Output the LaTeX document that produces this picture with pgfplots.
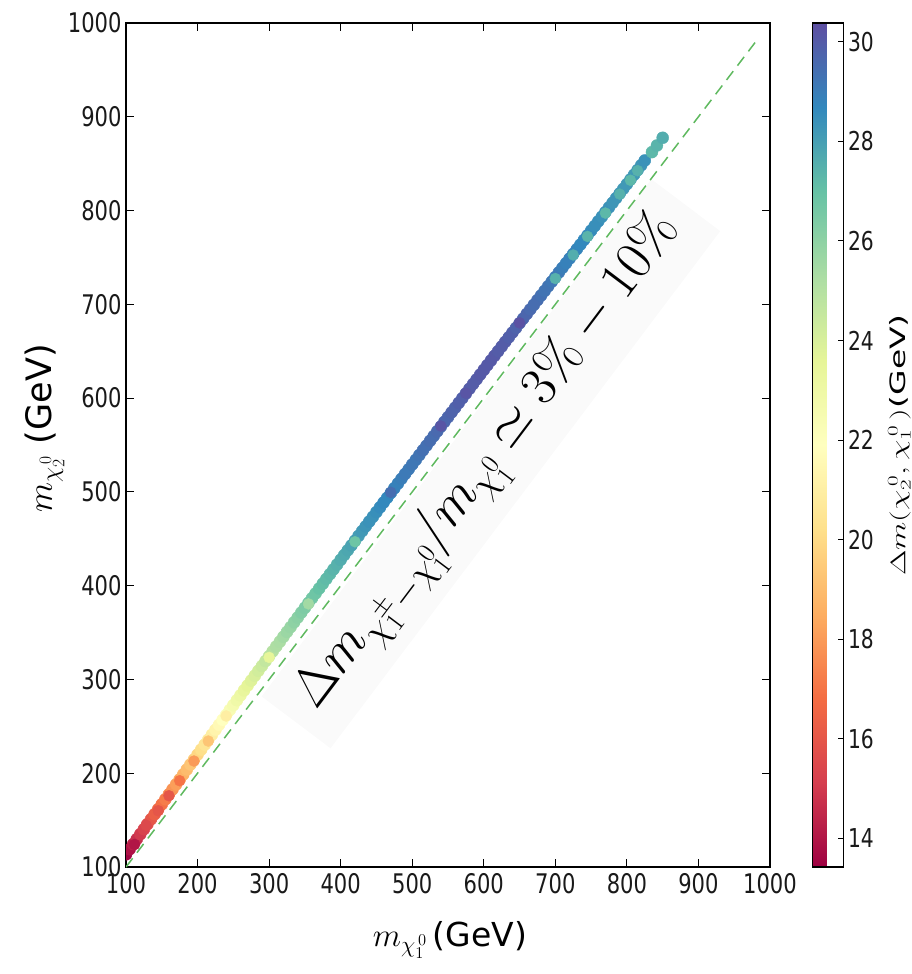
\RequirePackage{fix-cm}
\documentclass[border=0pt]{standalone}
\usepackage{pgfplots}
\pgfplotsset{compat=1.18}
\usepackage{pgfplotstable}
\usepackage[no-math]{fontspec}
\setmainfont{DejaVu Sans}
\newfontfamily\tickfont{DejaVu Sans}[FakeStretch=0.78]
\definecolor{dashgreen}{RGB}{95,185,95}

\pgfplotstableread{
x y c
100 113.5 13.5
105 118.9 13.9
110 124.3 14.3
115 129.7 14.7
120 135.0 15.0
125 140.3 15.3
130 145.7 15.7
135 151.0 16.0
140 156.3 16.3
145 161.6 16.6
150 166.9 16.9
155 172.2 17.2
160 177.5 17.5
165 182.8 17.8
170 188.1 18.1
175 193.4 18.4
180 198.7 18.7
185 204.0 19.0
190 209.3 19.3
195 214.6 19.6
200 219.9 19.9
205 225.2 20.2
210 230.5 20.5
215 235.8 20.8
220 241.0 21.0
225 246.3 21.3
230 251.6 21.6
235 256.9 21.9
240 262.1 22.1
245 267.4 22.4
250 272.6 22.6
255 277.9 22.9
260 283.1 23.1
265 288.4 23.4
270 293.6 23.6
275 298.8 23.8
280 304.0 24.0
285 309.2 24.2
290 314.4 24.4
295 319.6 24.6
300 324.8 24.8
305 330.0 25.0
310 335.2 25.2
315 340.3 25.3
320 345.5 25.5
325 350.7 25.7
330 355.8 25.8
335 361.0 26.0
340 366.1 26.1
345 371.3 26.3
350 376.4 26.4
355 381.6 26.6
360 386.7 26.7
365 391.8 26.8
370 397.0 27.0
375 402.1 27.1
380 407.2 27.2
385 412.3 27.3
390 417.4 27.4
395 422.5 27.5
400 427.6 27.6
405 432.7 27.7
410 437.8 27.8
415 442.9 27.9
420 448.0 28.0
425 453.1 28.1
430 458.2 28.2
435 463.3 28.3
440 468.4 28.4
445 473.4 28.4
450 478.5 28.5
455 483.6 28.6
460 488.7 28.7
465 493.7 28.7
470 498.8 28.8
475 503.9 28.9
480 508.9 28.9
485 514.0 29.0
490 519.1 29.1
495 524.1 29.1
500 529.2 29.2
505 534.2 29.2
510 539.3 29.3
515 544.4 29.4
520 549.4 29.4
525 554.5 29.5
530 559.5 29.5
535 564.6 29.6
540 569.6 29.6
545 574.7 29.7
550 579.7 29.7
555 584.8 29.8
560 589.8 29.8
565 594.9 29.9
570 599.9 29.9
575 604.9 29.9
580 610.0 30.0
585 615.0 30.0
590 620.0 30.0
595 625.1 30.1
600 630.1 30.1
605 635.1 30.1
610 640.1 30.1
615 645.1 30.1
620 650.0 30.0
625 655.0 30.0
630 660.0 30.0
635 664.9 29.9
640 669.9 29.9
645 674.8 29.8
650 679.8 29.8
655 684.7 29.7
660 689.7 29.7
665 694.6 29.6
670 699.5 29.5
675 704.5 29.5
680 709.4 29.4
685 714.3 29.3
690 719.3 29.3
695 724.2 29.2
700 729.1 29.1
705 734.1 29.1
710 739.0 29.0
715 743.9 28.9
720 748.9 28.9
725 753.8 28.8
730 758.8 28.8
735 763.7 28.7
740 768.7 28.7
745 773.6 28.6
750 778.6 28.6
755 783.5 28.5
760 788.5 28.5
765 793.4 28.4
770 798.4 28.4
775 803.4 28.4
780 808.3 28.3
785 813.3 28.3
790 818.3 28.3
795 823.2 28.2
800 828.2 28.2
805 833.2 28.2
810 838.2 28.2
815 843.2 28.2
820 848.3 28.3
825 853.4 28.4
835 862.3 27.3
842 869.4 27.4
850 877.6 27.6
}\mainpts

\pgfplotstableread{
x y c
112 124.0 14.0
128 144.5 15.5
145 160.0 16.0
160 176.0 16.0
175 192.0 17.0
195 213.0 18.0
215 234.3 19.3
240 261.0 21.0
300 323.5 23.5
355 380.5 25.5
420 446.8 26.8
470 499.5 29.5
540 570.2 30.2
575 605.2 30.2
650 680.3 30.3
700 727.5 27.5
725 752.6 27.6
745 772.4 27.4
770 797.3 27.3
790 817.5 27.5
805 832.3 27.3
815 842.5 27.5
}\extrapts

\begin{document}
\begin{tikzpicture}
\path[use as bounding box] (0,0) rectangle (912pt,974pt);
\begin{axis}[
  at={(126pt,107pt)}, anchor=south west,
  width=644pt, height=844pt, scale only axis,
  xmin=100, xmax=1000, ymin=100, ymax=1000,
  xtick={100,200,...,1000}, ytick={100,200,...,1000},
  /pgf/number format/1000 sep={},
  /pgf/number format/assume math mode=true,
  tick align=inside, major tick length=8pt,
  xtick pos=both, ytick pos=both,
  axis line style={line width=1.5pt, black},
  tick style={line width=1pt, black},
  ticklabel style={font=\tickfont\fontsize{27}{27}\selectfont, text=black!90},
  xticklabel style={yshift=-3pt},
  yticklabel style={xshift=-1pt},
  xlabel={$m_{\chi_1^{\,0}}$\,(GeV)},
  ylabel={$m_{\chi_2^{\,0}}$ (GeV)},
  xlabel style={font=\fontsize{33}{36}\selectfont, at={(axis description cs:0.503,-0.0865)}, anchor=center},
  ylabel style={font=\fontsize{35}{38}\selectfont, at={(axis description cs:-0.126,0.52)}, anchor=center},
  clip marker paths=true,
  colormap={spectral}{rgb255=(158,1,66) rgb255=(213,62,79) rgb255=(244,109,67) rgb255=(253,174,97) rgb255=(254,224,139) rgb255=(255,255,191) rgb255=(230,245,152) rgb255=(171,221,164) rgb255=(102,194,165) rgb255=(50,136,189) rgb255=(94,79,162)},
  point meta min=13.42, point meta max=30.38,
  colorbar,
  colorbar style={
    at={(parent axis.north east)}, anchor=north west, xshift=34pt,
    width=31pt,
    ytick={14,16,...,30},
    ytick pos=right, yticklabel pos=right,
    /pgf/number format/assume math mode=true,
    tick align=inside, major tick length=6pt,
    axis line style={line width=1.5pt, black},
    tick style={line width=1pt, black},
    yticklabel style={font=\tickfont\fontsize{26}{26}\selectfont, text=black!90, xshift=1pt},
    ylabel={\scalebox{1}[0.64]{$\Delta m(\chi_2^{\,0},\chi_1^{\,0}\,)$(GeV)}},
    ylabel style={font=\fontsize{33}{35}\selectfont, at={(axis description cs:2.8,0.5)}, anchor=center},
  },
]
\node[rotate=53, fill=black!2, inner xsep=22pt, inner ysep=12pt, font=\fontsize{54}{58}\selectfont]
  at (axis cs:610,530) {$\Delta m_{\chi_1^{\pm}-\chi_1^{0}}/m_{\chi_1^{0}}\simeq 3\%-10\%$};
\addplot[dashgreen, line width=1.5pt, dash pattern=on 11pt off 7pt] coordinates {(100,100) (980,980)};
\addplot[scatter, only marks, mark=*, mark size=6pt, point meta=explicit,
  scatter/use mapped color={draw=mapped color, fill=mapped color}]
  table[x=x, y=y, meta=c] {\mainpts};
\addplot[scatter, only marks, mark=*, mark size=5.5pt, point meta=explicit,
  scatter/use mapped color={draw=mapped color, fill=mapped color}]
  table[x=x, y=y, meta=c] {\extrapts};
\end{axis}
\end{tikzpicture}
\end{document}
